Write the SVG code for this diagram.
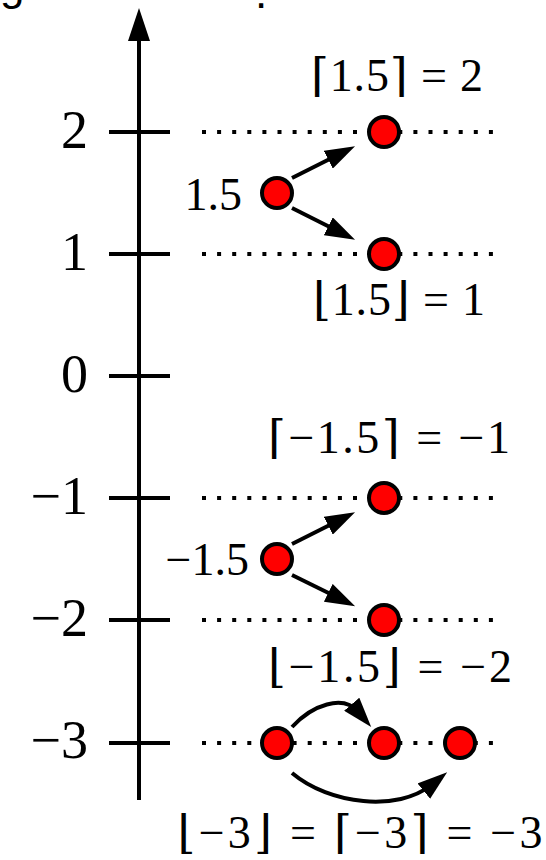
<svg xmlns="http://www.w3.org/2000/svg" width="546" height="860" viewBox="0 0 546 860">
<style>
  .math { font-family: "Liberation Serif", "DejaVu Serif", serif; fill: #000; }
  .lbl { font-size: 46px; }
  .ax { font-size: 54px; text-anchor: end; }
  .dot { fill: #ff0000; stroke: #000; stroke-width: 4; }
  .dotted { stroke: #000; stroke-width: 4; stroke-dasharray: 4 11.1; fill: none; }
  .tick { stroke: #000; stroke-width: 4; }
  .arr { stroke: #000; stroke-width: 4; fill: none; marker-end: url(#head); }
  .frag { font-family: "Liberation Sans", Arial, sans-serif; font-size: 44px; fill: #000; }
</style>
<defs>
  <marker id="head" markerUnits="userSpaceOnUse" markerWidth="30" markerHeight="20" refX="10" refY="10" orient="auto">
    <path d="M0,0 L30,10 L0,20 z" fill="#000"/>
  </marker>
</defs>
<rect width="546" height="860" fill="#fff"/>

<g id="caption-fragment">
  <text class="frag" x="0" y="0">g</text>
  <text class="frag" x="255" y="8">.</text>
</g>

<g id="axis">
  <line class="tick" x1="139" y1="800" x2="139" y2="36"/>
  <polygon points="139,8 128,41 150,41" fill="#000"/>
  <line class="tick" x1="109" y1="132" x2="170" y2="132"/>
  <line class="tick" x1="109" y1="254" x2="170" y2="254"/>
  <line class="tick" x1="109" y1="376" x2="170" y2="376"/>
  <line class="tick" x1="109" y1="498" x2="170" y2="498"/>
  <line class="tick" x1="109" y1="620" x2="170" y2="620"/>
  <line class="tick" x1="109" y1="743" x2="170" y2="743"/>
  <text class="math ax" x="88" y="148">2</text>
  <text class="math ax" x="88" y="270">1</text>
  <text class="math ax" x="88" y="392">0</text>
  <text class="math ax" x="88" y="514">−1</text>
  <text class="math ax" x="88" y="636">−2</text>
  <text class="math ax" x="88" y="758">−3</text>
</g>

<g id="guides">
  <line class="dotted" x1="202" y1="132" x2="496" y2="132"/>
  <line class="dotted" x1="202" y1="254" x2="496" y2="254"/>
  <line class="dotted" x1="202" y1="498" x2="496" y2="498"/>
  <line class="dotted" x1="202" y1="620" x2="496" y2="620"/>
  <line class="dotted" x1="202" y1="743" x2="496" y2="743"/>
</g>

<g id="connectors">
  <line class="arr" x1="292" y1="178" x2="337.2" y2="155.2"/>
  <line class="arr" x1="292" y1="208" x2="337.2" y2="230.8"/>
  <line class="arr" x1="292" y1="544" x2="337.2" y2="521.2"/>
  <line class="arr" x1="292" y1="575" x2="337.2" y2="597.3"/>
  <path class="arr" d="M292,727 C312,705 343,694 358.2,711.8"/>
  <path class="arr" d="M292,773 C330,805 398,812 431.6,784.8"/>
</g>

<g id="node-1.5">
  <circle class="dot" cx="277" cy="193" r="15"/>
  <text class="math lbl" x="242" y="210" text-anchor="end">1.5</text>
</g>
<g id="node-ceil-1.5">
  <circle class="dot" cx="384" cy="132" r="15"/>
  <text class="math lbl" x="397" y="91" text-anchor="middle" textLength="172" lengthAdjust="spacing">⌈1.5⌉ = 2</text>
</g>
<g id="node-floor-1.5">
  <circle class="dot" cx="384" cy="254" r="15"/>
  <text class="math lbl" x="399" y="315" text-anchor="middle" textLength="172" lengthAdjust="spacing">⌊1.5⌋ = 1</text>
</g>
<g id="node-neg1.5">
  <circle class="dot" cx="277" cy="559" r="15"/>
  <text class="math lbl" x="249" y="575" text-anchor="end">−1.5</text>
</g>
<g id="node-ceil-neg1.5">
  <circle class="dot" cx="384" cy="498" r="15"/>
  <text class="math lbl" x="389" y="453" text-anchor="middle" textLength="242" lengthAdjust="spacing">⌈−1.5⌉ = −1</text>
</g>
<g id="node-floor-neg1.5">
  <circle class="dot" cx="384" cy="620" r="15"/>
  <text class="math lbl" x="390" y="682" text-anchor="middle" textLength="244" lengthAdjust="spacing">⌊−1.5⌋ = −2</text>
</g>
<g id="node-neg3">
  <circle class="dot" cx="277" cy="743" r="15"/>
  <circle class="dot" cx="384" cy="743" r="15"/>
  <circle class="dot" cx="460" cy="743" r="15"/>
  <text class="math lbl" x="360" y="848" text-anchor="middle" textLength="365" lengthAdjust="spacing">⌊−3⌋ = ⌈−3⌉ = −3</text>
</g>
</svg>
